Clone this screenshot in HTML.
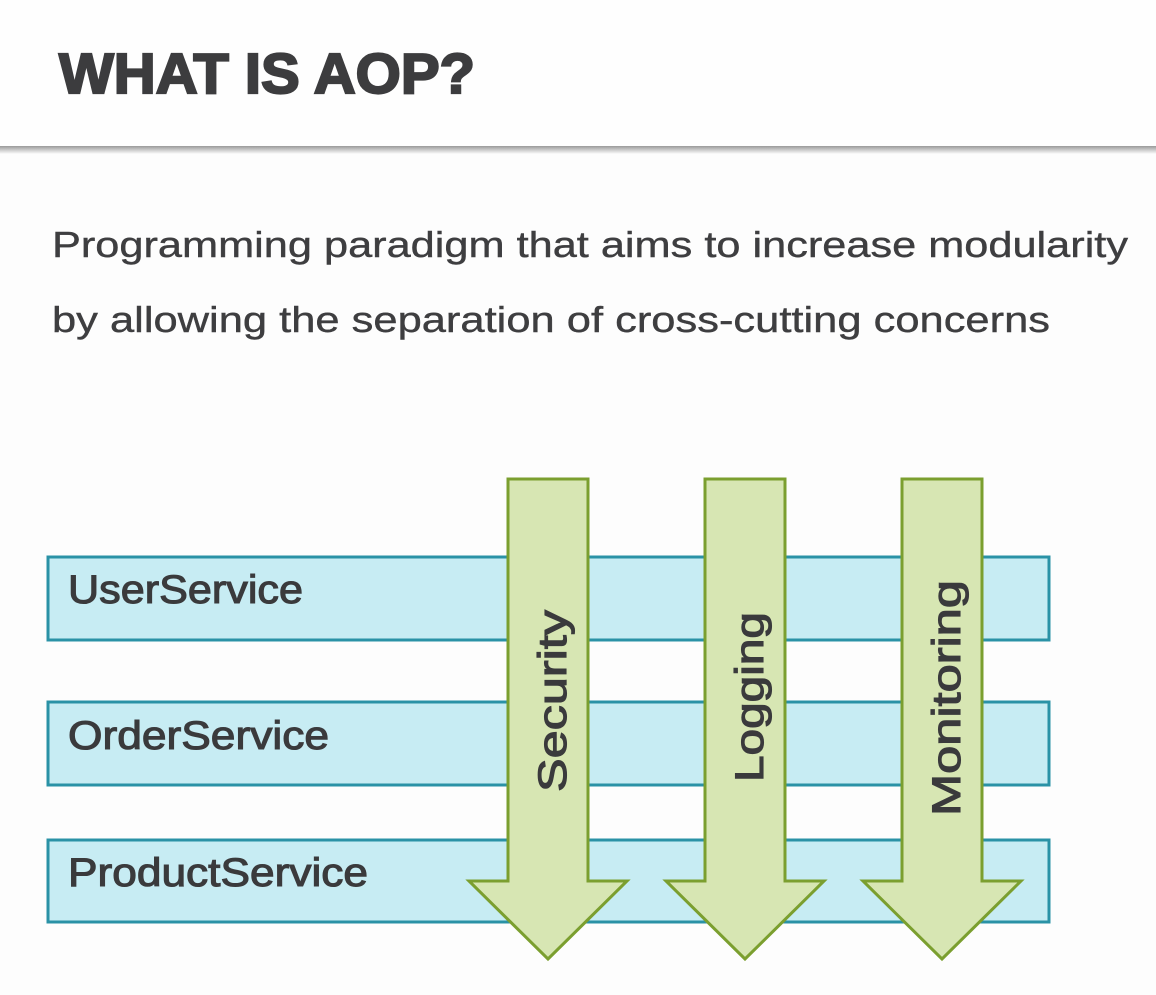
<!DOCTYPE html>
<html><head><meta charset="utf-8"><style>
html,body{margin:0;padding:0;background:#fff;}
svg{display:block;}
</style></head><body>
<svg width="1156" height="995" viewBox="0 0 1156 995" xmlns="http://www.w3.org/2000/svg" font-family="Liberation Sans, sans-serif">
<defs>
<linearGradient id="sh" x1="0" y1="0" x2="0" y2="1">
<stop offset="0" stop-color="#9a9a9a"/><stop offset="1" stop-color="#fdfdfd"/>
</linearGradient>
</defs>
<rect width="1156" height="995" fill="#fdfdfd"/>
<rect x="0" y="0" width="1156" height="147" fill="#fefefe"/>
<rect x="0" y="146" width="1156" height="8" fill="url(#sh)"/>
<text x="59" y="93" font-size="57" font-weight="bold" fill="#3c3c3e" stroke="#3c3c3e" stroke-width="2.2" textLength="416" lengthAdjust="spacingAndGlyphs">WHAT IS AOP?</text>
<g font-size="36" fill="#3e3e40" stroke="#3e3e40" stroke-width="0.4">
<text x="52" y="257" textLength="1076" lengthAdjust="spacingAndGlyphs">Programming paradigm that aims to increase modularity</text>
<text x="52" y="332" textLength="998" lengthAdjust="spacingAndGlyphs">by allowing the separation of cross-cutting concerns</text>
</g>

<g fill="#c7ecf3" stroke="#2a92a6" stroke-width="3">
<rect x="48" y="557" width="1001" height="83"/>
<rect x="48" y="702" width="1001" height="83"/>
<rect x="48" y="840" width="1001" height="82"/>
</g>
<g font-size="40" fill="#3a3a3c" stroke="#3a3a3c" stroke-width="1.1">
<text x="68" y="603" textLength="235" lengthAdjust="spacingAndGlyphs">UserService</text>
<text x="68" y="749" textLength="261" lengthAdjust="spacingAndGlyphs">OrderService</text>
<text x="68" y="886" textLength="300" lengthAdjust="spacingAndGlyphs">ProductService</text>
</g>

<g fill="#d7e6b3" stroke="#7b9f2f" stroke-width="3" stroke-linejoin="miter">
<polygon points="508,479 588,479 588,881 627,881 548,959 469,881 508,881"/>
<polygon points="705,479 785,479 785,881 824,881 745,959 666,881 705,881"/>
<polygon points="902,479 982,479 982,881 1021,881 942,959 863,881 902,881"/>
</g>
<g font-size="40" fill="#3a3a3c" stroke="#3a3a3c" stroke-width="1.1">
<text transform="translate(566,792) rotate(-90)" textLength="182" lengthAdjust="spacingAndGlyphs">Security</text>
<text transform="translate(763,782) rotate(-90)" textLength="170" lengthAdjust="spacingAndGlyphs">Logging</text>
<text transform="translate(960,816) rotate(-90)" textLength="236" lengthAdjust="spacingAndGlyphs">Monitoring</text>
</g>
</svg>
</body></html>
